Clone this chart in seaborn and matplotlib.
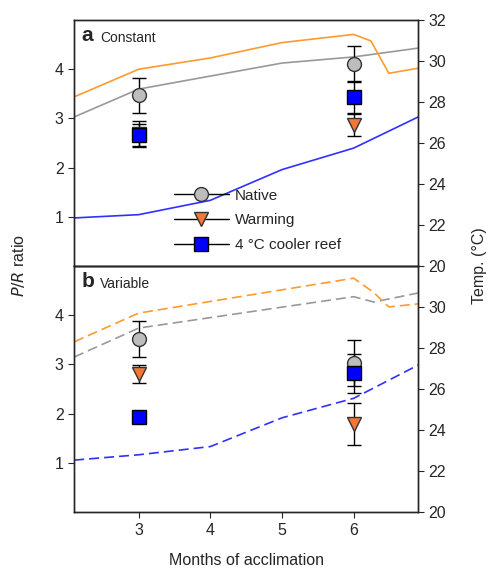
import matplotlib
matplotlib.use("Agg")
import matplotlib.pyplot as plt
from matplotlib.lines import Line2D
import seaborn as sns

sns.set_style("ticks")
plt.rcParams['font.family'] = ['Liberation Sans', 'DejaVu Sans']

# months where P/R was measured
months = [3, 6]

# P/R ratio, panel a (constant)
a_native = [3.47, 4.10]
a_native_err = [0.36, 0.37]
a_warming = [2.68, 2.87]
a_warming_err = [0.27, 0.22]
a_cool = [2.66, 3.44]
a_cool_err = [0.22, 0.33]

# P/R ratio, panel b (variable)
b_native = [3.52, 3.03]
b_native_err = [0.37, 0.47]
b_warming = [2.80, 1.79]
b_warming_err = [0.18, 0.43]
b_cool = [1.93, 2.82]
b_cool_err = [0.05, 0.40]

# temperature traces (right axis)
a_t_native_x = [2.1, 3.0, 5.0, 6.0, 6.9]
a_t_native = [27.27, 28.63, 29.9, 30.2, 30.63]
a_t_warm_x = [2.1, 3.0, 4.0, 5.0, 6.0, 6.24, 6.49, 6.9]
a_t_warm = [28.25, 29.6, 30.15, 30.9, 31.3, 30.98, 29.4, 29.65]
a_t_cool_x = [2.1, 3.0, 4.0, 5.0, 6.0, 6.9]
a_t_cool = [22.34, 22.5, 23.2, 24.7, 25.75, 27.27]

b_t_native_x = [2.1, 3.0, 6.0, 6.28, 6.9]
b_t_native = [27.56, 28.97, 30.5, 30.24, 30.68]
b_t_warm_x = [2.1, 3.0, 6.0, 6.28, 6.49, 6.9]
b_t_warm = [28.3, 29.7, 31.4, 30.7, 30.0, 30.15]
b_t_cool_x = [2.1, 3.0, 4.0, 5.0, 6.0, 6.9]
b_t_cool = [22.54, 22.8, 23.2, 24.6, 25.55, 27.17]

c_native = "#bdbdbd"
c_warm = "#f2783a"
c_cool = "#0000ff"
line_warm = "#ff9a2e"
line_native = "#999999"
line_cool = "#3030ff"

fs = 11.5

fig = plt.figure(figsize=(4.88, 5.73), dpi=100)
ax_a = fig.add_axes([0.152, 0.536, 0.705, 0.429])
ax_b = fig.add_axes([0.152, 0.106, 0.705, 0.430], sharex=ax_a)


def draw_panel(ax, native, native_err, warming, warming_err, cool, cool_err,
               temps, ls, letter, title, right_ticks):
    axt = ax.twinx()
    for tx, ty, col in temps:
        sns.lineplot(x=tx, y=ty, ax=axt, color=col, lw=1.2, linestyle=ls)
    axt.set_ylim(20, 32)
    axt.set_yticks(right_ticks)
    axt.tick_params(axis='y', labelsize=fs, direction='out', length=4)

    # P/R points above the temperature traces
    ax.set_zorder(axt.get_zorder() + 1)
    ax.patch.set_visible(False)

    ax.errorbar(months, native, yerr=native_err, fmt='o', ms=10, mfc=c_native,
                mec='#333333', mew=1, ecolor='black', elinewidth=1, capsize=5)
    ax.errorbar(months, warming, yerr=warming_err, fmt='v', ms=10, mfc=c_warm,
                mec='#333333', mew=1, ecolor='black', elinewidth=1, capsize=5)
    ax.errorbar(months, cool, yerr=cool_err, fmt='s', ms=9.5, mfc=c_cool,
                mec='black', mew=1, ecolor='black', elinewidth=1, capsize=5)

    ax.set_ylim(0, 5)
    ax.set_yticks([1, 2, 3, 4])
    ax.set_xlim(2.1, 6.9)
    ax.tick_params(axis='y', labelsize=fs, direction='out', length=4)
    ax.text(0.022, 0.975, letter, transform=ax.transAxes, fontsize=15,
            fontweight='bold', va='top', ha='left')
    ax.text(0.075, 0.955, title, transform=ax.transAxes, fontsize=10,
            va='top', ha='left')
    for sp in list(ax.spines.values()) + list(axt.spines.values()):
        sp.set_linewidth(1)
    return axt


draw_panel(ax_a, a_native, a_native_err, a_warming, a_warming_err, a_cool, a_cool_err,
           [(a_t_native_x, a_t_native, line_native), (a_t_warm_x, a_t_warm, line_warm),
            (a_t_cool_x, a_t_cool, line_cool)],
           '-', 'a', 'Constant', [20, 22, 24, 26, 28, 30, 32])
draw_panel(ax_b, b_native, b_native_err, b_warming, b_warming_err, b_cool, b_cool_err,
           [(b_t_native_x, b_t_native, line_native), (b_t_warm_x, b_t_warm, line_warm),
            (b_t_cool_x, b_t_cool, line_cool)],
           (0, (6, 3)), 'b', 'Variable', [20, 22, 24, 26, 28, 30])

ax_a.tick_params(axis='x', bottom=False, labelbottom=False)
ax_b.set_xticks([3, 4, 5, 6])
ax_b.tick_params(axis='x', labelsize=fs, direction='out', length=4)
ax_b.set_xlabel("Months of acclimation", fontsize=fs, labelpad=11)

handles = [
    Line2D([], [], color='black', lw=1, marker='o', ms=10, mfc=c_native, mec='#333333'),
    Line2D([], [], color='black', lw=1, marker='v', ms=10, mfc=c_warm, mec='#333333'),
    Line2D([], [], color='black', lw=1, marker='s', ms=9.5, mfc=c_cool, mec='black'),
]
ax_a.legend(handles, ["Native", "Warming", "4 °C cooler reef"], loc='lower left',
            bbox_to_anchor=(0.25, 0.0), frameon=False, fontsize=11, handlelength=3.6,
            labelspacing=0.7, handletextpad=0.4)

fig.text(0.037, 0.536, r"$\it{P/R}$ ratio", rotation=90, va='center', ha='center', fontsize=fs)
fig.text(0.983, 0.536, "Temp. (°C)", rotation=90, va='center', ha='center', fontsize=fs)

fig.savefig("out.png", dpi=100)
